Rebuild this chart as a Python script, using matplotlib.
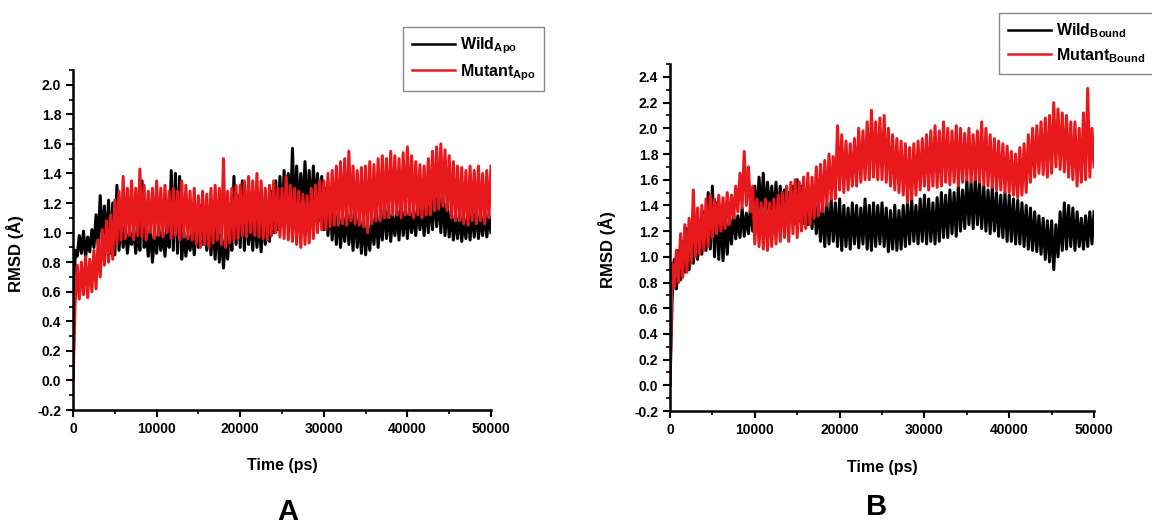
"""RMSD traces of wild and mutant structures, apo (A) and bound (B)."""

import matplotlib

matplotlib.use("Agg")

import matplotlib.pyplot as plt
import numpy as np
from matplotlib.ticker import MultipleLocator

plt.rcParams["font.family"] = ["Liberation Sans", "DejaVu Sans"]
plt.rcParams["font.weight"] = "bold"
plt.rcParams["mathtext.fontset"] = "custom"
plt.rcParams["mathtext.rm"] = "Liberation Sans"
plt.rcParams["mathtext.bf"] = "Liberation Sans:bold"

# time axis, one sample every 250 ps
TIME_PS = np.arange(0, 50001, 250)

# values, one row = 2500 ps
WILD_APO = [
    0.00, 0.88, 0.84, 0.98, 0.86, 1.01, 0.83, 0.97, 0.87, 1.02,
    0.90, 1.12, 0.92, 1.25, 0.95, 1.18, 0.90, 1.22, 0.86, 1.20,
    0.85, 1.32, 0.88, 1.10, 0.90, 1.05, 0.86, 1.00, 0.92, 1.04,
    0.86, 1.02, 0.88, 1.35, 0.90, 1.00, 0.84, 1.05, 0.80, 0.98,
    0.86, 1.04, 0.88, 1.00, 0.84, 1.06, 0.90, 1.42, 0.88, 1.40,
    0.86, 1.38, 0.82, 1.00, 0.84, 0.98, 0.88, 1.02, 0.85, 1.05,
    0.90, 1.18, 0.92, 1.10, 0.88, 1.15, 0.85, 1.08, 0.82, 1.12,
    0.80, 1.00, 0.76, 0.98, 0.82, 1.10, 0.88, 1.38, 0.92, 1.25,
    0.90, 1.35, 0.88, 1.18, 0.92, 1.12, 0.88, 1.15, 0.90, 1.10,
    0.87, 1.12, 0.92, 1.20, 0.94, 1.28, 1.00, 1.35, 1.02, 1.38,
    1.05, 1.42, 1.08, 1.40, 1.10, 1.57, 1.06, 1.45, 1.12, 1.40,
    1.15, 1.48, 1.12, 1.42, 1.10, 1.45, 1.15, 1.40, 1.08, 1.38,
    1.02, 1.30, 0.98, 1.22, 0.95, 1.18, 0.92, 1.15, 0.90, 1.12,
    0.94, 1.15, 0.92, 1.12, 0.88, 1.18, 0.90, 1.10, 0.86, 1.12,
    0.85, 1.05, 0.88, 1.10, 0.92, 1.15, 0.90, 1.12, 0.95, 1.20,
    0.96, 1.18, 0.94, 1.12, 0.98, 1.15, 0.95, 1.20, 0.98, 1.15,
    0.96, 1.18, 1.00, 1.15, 0.98, 1.20, 1.02, 1.18, 0.98, 1.22,
    1.00, 1.25, 1.02, 1.30, 1.04, 1.28, 1.00, 1.25, 0.98, 1.20,
    0.97, 1.15, 0.95, 1.12, 0.96, 1.15, 0.94, 1.10, 0.96, 1.14,
    0.95, 1.16, 0.97, 1.18, 0.96, 1.12, 0.98, 1.15, 0.97, 1.12,
    1.00,
]
MUTANT_APO = [
    0.00, 0.52, 0.78, 0.55, 0.80, 0.58, 0.84, 0.56, 0.82, 0.60,
    0.88, 0.62, 0.95, 0.70, 1.02, 0.78, 1.08, 0.80, 1.12, 0.82,
    1.22, 0.92, 1.28, 0.95, 1.38, 0.96, 1.30, 0.98, 1.35, 0.95,
    1.30, 0.98, 1.43, 0.97, 1.32, 0.95, 1.28, 1.00, 1.30, 0.96,
    1.35, 0.98, 1.30, 0.97, 1.32, 1.00, 1.28, 0.96, 1.30, 0.98,
    1.28, 0.95, 1.35, 0.97, 1.32, 0.96, 1.28, 0.95, 1.30, 0.92,
    1.25, 0.90, 1.28, 0.92, 1.26, 0.90, 1.30, 0.93, 1.32, 0.95,
    1.30, 0.92, 1.50, 0.90, 1.28, 0.93, 1.30, 0.95, 1.32, 0.96,
    1.32, 0.98, 1.35, 0.97, 1.38, 1.00, 1.35, 0.98, 1.40, 0.97,
    1.35, 0.96, 1.30, 0.95, 1.32, 0.98, 1.35, 1.00, 1.30, 0.97,
    1.30, 0.96, 1.38, 0.95, 1.32, 0.94, 1.30, 0.92, 1.28, 0.90,
    1.26, 0.92, 1.25, 0.93, 1.30, 0.96, 1.32, 1.00, 1.35, 1.02,
    1.35, 1.02, 1.40, 1.04, 1.42, 1.05, 1.45, 1.05, 1.48, 1.06,
    1.50, 1.05, 1.55, 1.08, 1.45, 1.06, 1.42, 1.05, 1.44, 1.04,
    1.45, 1.00, 1.48, 1.06, 1.46, 1.08, 1.50, 1.08, 1.52, 1.10,
    1.50, 1.10, 1.55, 1.12, 1.52, 1.12, 1.50, 1.10, 1.54, 1.12,
    1.58, 1.12, 1.52, 1.10, 1.48, 1.12, 1.46, 1.10, 1.45, 1.12,
    1.50, 1.12, 1.55, 1.15, 1.58, 1.16, 1.60, 1.18, 1.56, 1.15,
    1.52, 1.10, 1.48, 1.08, 1.45, 1.08, 1.44, 1.06, 1.42, 1.05,
    1.45, 1.08, 1.42, 1.06, 1.45, 1.08, 1.40, 1.06, 1.42, 1.10,
    1.45,
]
WILD_BOUND = [
    0.00, 0.68, 0.98, 0.75, 1.05, 0.82, 1.12, 0.88, 1.22, 0.90,
    1.25, 0.95, 1.30, 0.98, 1.28, 1.02, 1.35, 1.05, 1.50, 1.06,
    1.55, 1.00, 1.42, 0.98, 1.35, 0.97, 1.30, 1.02, 1.32, 1.10,
    1.35, 1.14, 1.32, 1.15, 1.38, 1.16, 1.34, 1.18, 1.40, 1.20,
    1.55, 1.30, 1.62, 1.32, 1.65, 1.30, 1.58, 1.32, 1.55, 1.30,
    1.58, 1.28, 1.55, 1.30, 1.52, 1.27, 1.50, 1.28, 1.55, 1.26,
    1.60, 1.28, 1.55, 1.26, 1.52, 1.25, 1.50, 1.22, 1.48, 1.18,
    1.42, 1.12, 1.40, 1.08, 1.42, 1.10, 1.45, 1.12, 1.42, 1.08,
    1.45, 1.05, 1.40, 1.08, 1.38, 1.06, 1.42, 1.10, 1.40, 1.07,
    1.38, 1.10, 1.45, 1.06, 1.40, 1.05, 1.42, 1.08, 1.40, 1.10,
    1.42, 1.08, 1.38, 1.04, 1.36, 1.06, 1.40, 1.05, 1.36, 1.06,
    1.40, 1.08, 1.42, 1.10, 1.45, 1.12, 1.40, 1.10, 1.45, 1.12,
    1.48, 1.10, 1.45, 1.12, 1.42, 1.10, 1.46, 1.12, 1.50, 1.15,
    1.48, 1.15, 1.52, 1.18, 1.50, 1.16, 1.55, 1.20, 1.52, 1.22,
    1.60, 1.25, 1.58, 1.22, 1.62, 1.25, 1.58, 1.22, 1.55, 1.20,
    1.52, 1.18, 1.55, 1.20, 1.50, 1.16, 1.48, 1.15, 1.50, 1.12,
    1.48, 1.12, 1.45, 1.10, 1.44, 1.10, 1.42, 1.08, 1.40, 1.06,
    1.38, 1.05, 1.35, 1.04, 1.32, 1.02, 1.30, 0.98, 1.28, 0.96,
    1.28, 0.90, 1.25, 1.00, 1.35, 1.05, 1.42, 1.06, 1.40, 1.08,
    1.38, 1.05, 1.35, 1.08, 1.30, 1.06, 1.32, 1.08, 1.35, 1.10,
    1.35,
]
MUTANT_BOUND = [
    0.00, 0.95, 0.76, 1.05, 0.80, 1.18, 0.84, 1.25, 0.88, 1.30,
    0.95, 1.52, 1.00, 1.38, 1.02, 1.40, 1.05, 1.45, 1.08, 1.48,
    1.15, 1.45, 1.18, 1.48, 1.20, 1.46, 1.22, 1.50, 1.25, 1.48,
    1.30, 1.55, 1.35, 1.65, 1.38, 1.82, 1.40, 1.70, 1.35, 1.55,
    1.10, 1.45, 1.08, 1.42, 1.06, 1.45, 1.05, 1.42, 1.08, 1.45,
    1.10, 1.48, 1.12, 1.50, 1.15, 1.55, 1.12, 1.58, 1.18, 1.60,
    1.15, 1.58, 1.20, 1.62, 1.22, 1.65, 1.25, 1.62, 1.30, 1.70,
    1.32, 1.72, 1.35, 1.75, 1.40, 1.80, 1.45, 1.78, 1.45, 2.02,
    1.52, 1.95, 1.50, 1.90, 1.52, 1.88, 1.55, 1.92, 1.55, 2.00,
    1.58, 1.98, 1.60, 2.05, 1.60, 2.14, 1.62, 2.05, 1.60, 2.08,
    1.60, 2.10, 1.58, 2.00, 1.55, 1.95, 1.52, 1.92, 1.50, 1.90,
    1.48, 1.88, 1.42, 1.85, 1.45, 1.88, 1.48, 1.90, 1.52, 1.92,
    1.55, 1.95, 1.52, 1.98, 1.55, 2.02, 1.54, 1.98, 1.55, 2.05,
    1.58, 2.00, 1.56, 1.98, 1.58, 2.02, 1.55, 2.00, 1.58, 1.96,
    1.60, 2.00, 1.58, 1.95, 1.60, 1.98, 1.58, 2.05, 1.56, 2.00,
    1.55, 1.95, 1.54, 1.92, 1.52, 1.90, 1.52, 1.88, 1.50, 1.86,
    1.50, 1.82, 1.48, 1.80, 1.46, 1.85, 1.48, 1.88, 1.50, 1.95,
    1.58, 2.00, 1.62, 2.02, 1.65, 2.05, 1.64, 2.08, 1.62, 2.10,
    1.65, 2.20, 1.70, 2.15, 1.68, 2.12, 1.66, 2.10, 1.62, 2.05,
    1.60, 2.05, 1.55, 2.00, 1.58, 2.12, 1.60, 2.31, 1.62, 2.00,
    1.70,
]

RED = "#e8191d"
LINE_WIDTH = 2.2


def style_axis(ax, ymax):
    ax.set_xlim(0, 50000)
    ax.set_ylim(-0.2, ymax)
    ax.xaxis.set_major_locator(MultipleLocator(10000))
    ax.xaxis.set_minor_locator(MultipleLocator(5000))
    ax.yaxis.set_major_locator(MultipleLocator(0.2))
    ax.yaxis.set_minor_locator(MultipleLocator(0.1))
    ax.yaxis.set_major_formatter(lambda v, pos: f"{v:.1f}")
    ax.spines["top"].set_visible(False)
    ax.spines["right"].set_visible(False)
    for side in ["left", "bottom"]:
        ax.spines[side].set_linewidth(1.8)
    ax.tick_params(which="major", direction="out", length=5, width=1.5, labelsize=10)
    ax.tick_params(which="minor", direction="out", length=3, width=1.2)
    ax.set_xlabel("Time (ps)", fontsize=11.5, fontweight="bold")
    ax.set_ylabel("RMSD (Å)", fontsize=12, fontweight="bold")


def add_legend(fig, handles, labels, anchor):
    leg = fig.legend(
        handles, labels, loc="upper left", bbox_to_anchor=anchor,
        fontsize=11.5, frameon=True, fancybox=False, edgecolor="#888888",
        framealpha=1.0, handlelength=2.7, handletextpad=0.3,
        labelspacing=0.35, borderpad=0.55, borderaxespad=0.0,
    )
    for line in leg.get_lines():
        line.set_linewidth(1.8)


assert len(TIME_PS) == len(WILD_APO) == len(MUTANT_APO)
assert len(TIME_PS) == len(WILD_BOUND) == len(MUTANT_BOUND)

fig = plt.figure(figsize=(11.52, 5.25), dpi=100)
ax_a = fig.add_axes([0.0634, 0.219, 0.3628, 0.6477])
ax_b = fig.add_axes([0.5816, 0.2171, 0.3681, 0.6609])

wild_a, = ax_a.plot(TIME_PS, WILD_APO, color="black", linewidth=LINE_WIDTH)
mut_a, = ax_a.plot(TIME_PS, MUTANT_APO, color=RED, linewidth=LINE_WIDTH)
style_axis(ax_a, 2.1)
ax_a.xaxis.set_label_coords(0.5, -0.141)
ax_a.yaxis.set_label_coords(-0.117, 0.46)
add_legend(
    fig, [wild_a, mut_a],
    [r"$\mathbf{Wild}_{\mathbf{Apo}}$", r"$\mathbf{Mutant}_{\mathbf{Apo}}$"],
    (403 / 1152, 1 - 27 / 525),
)

wild_b, = ax_b.plot(TIME_PS, WILD_BOUND, color="black", linewidth=LINE_WIDTH)
mut_b, = ax_b.plot(TIME_PS, MUTANT_BOUND, color=RED, linewidth=LINE_WIDTH)
style_axis(ax_b, 2.5)
ax_b.xaxis.set_label_coords(0.5, -0.141)
ax_b.yaxis.set_label_coords(-0.127, 0.464)
add_legend(
    fig, [wild_b, mut_b],
    [r"$\mathbf{Wild}_{\mathbf{Bound}}$", r"$\mathbf{Mutant}_{\mathbf{Bound}}$"],
    (999 / 1152, 1 - 13 / 525),
)

fig.text(288 / 1152, 1 - 512 / 525, "A", fontsize=21, fontweight="bold",
         ha="center", va="center")
fig.text(877 / 1152, 1 - 507 / 525, "B", fontsize=21, fontweight="bold",
         ha="center", va="center")

fig.savefig("out.png", dpi=100)
